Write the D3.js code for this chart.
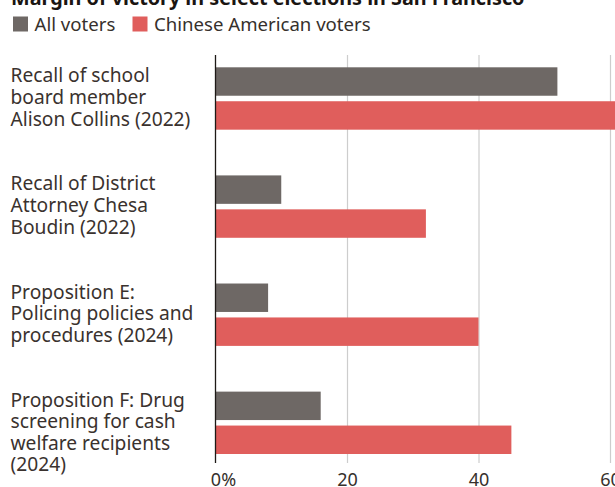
<!DOCTYPE html>
<html>
<head>
<meta charset="utf-8">
<script src="https://cdn.jsdelivr.net/npm/d3@7"></script>
<style>
  html, body { margin: 0; padding: 0; background: #fff; }
  svg { display: block; }
</style>
</head>
<body>
<svg id="chart" width="615" height="487"></svg>
<script>
// Margin of victory in select San Francisco elections
const categories = [
  ["Recall of school", "board member", "Alison Collins (2022)"],
  ["Recall of District", "Attorney Chesa", "Boudin (2022)"],
  ["Proposition E:", "Policing policies and", "procedures (2024)"],
  ["Proposition F: Drug", "screening for cash", "welfare recipients", "(2024)"]
];
const seriesNames = ["All voters", "Chinese American voters"];
const allVoters = [52, 10, 8, 16];
const chineseAmericanVoters = [62, 32, 40, 45];
const tickValues = [0, 20, 40, 60];
const titleText = "Margin of victory in select elections in San Francisco";

const colors = ["#6e6865", "#e05e5c"];
const FONT = "'Noto Sans', 'Open Sans', sans-serif";

const svg = d3.select("#chart");
const keys = categories.map((c, i) => "c" + i);
const rows = keys.map((k, i) => ({ key: k, lines: categories[i], values: [allVoters[i], chineseAmericanVoters[i]] }));

const x = d3.scaleLinear().domain([0, 60]).range([215.5, 610]);
const y = d3.scaleBand().domain(keys).range([67.3, 454]).paddingInner(0.423).paddingOuter(0);
const ySub = d3.scaleBand().domain([0, 1]).range([0, y.bandwidth()]).paddingInner(0.162);

const gridTop = 55, gridBottom = 463;

// Title (runs off the top edge)
svg.append("text")
  .attr("x", 11).attr("y", 4.5)
  .attr("font-family", FONT).attr("font-weight", 700).attr("font-size", 19.8)
  .attr("fill", "#1a1512")
  .text(titleText);

// Legend
const legend = svg.append("g");
const legendX = [13, 132.5];
seriesNames.forEach((name, i) => {
  legend.append("rect").attr("x", legendX[i]).attr("y", 16.5).attr("width", 15).attr("height", 15).attr("fill", colors[i]);
  legend.append("text").attr("x", legendX[i] + 21.5).attr("y", 31)
    .attr("font-family", FONT).attr("font-size", 18.6).attr("fill", "#36302c").text(name);
});

// Gridlines + axis labels
const axis = d3.axisBottom(x).tickValues(tickValues).tickSize(-(gridBottom - gridTop)).tickFormat(d => d);
const gAxis = svg.append("g").attr("transform", `translate(0,${gridBottom})`).call(axis);
gAxis.select(".domain").remove();
gAxis.selectAll(".tick line").attr("stroke", d => d === 0 ? "none" : "#cdcdcd").attr("stroke-width", 1.2);
gAxis.selectAll(".tick text")
  .attr("y", 22.5).attr("dy", 0)
  .attr("font-family", FONT).attr("font-size", 18).attr("fill", "#36302c");

// Bars
const groups = svg.append("g").selectAll("g").data(rows).join("g")
  .attr("transform", d => `translate(0,${y(d.key)})`);
groups.selectAll("rect").data(d => d.values).join("rect")
  .attr("x", x(0))
  .attr("y", (v, i) => ySub(i))
  .attr("width", v => x(v) - x(0))
  .attr("height", ySub.bandwidth())
  .attr("fill", (v, i) => colors[i]);

// "0%" : the zero is centred on its tick, the percent sign hangs to the right
gAxis.selectAll(".tick").filter(d => d === 0).select("text").each(function () {
  const t = d3.select(this);
  const w = this.getComputedTextLength();
  t.attr("text-anchor", "start").attr("x", -w / 2).text("0%");
});

// Zero baseline
svg.append("line")
  .attr("x1", x(0)).attr("x2", x(0)).attr("y1", gridTop).attr("y2", gridBottom)
  .attr("stroke", "#1e1a17").attr("stroke-width", 1.3);

// Category labels
const lineHeight = 21.6;
rows.forEach(r => {
  const t = svg.append("text")
    .attr("font-family", FONT).attr("font-size", 19.2).attr("fill", "#3a322e");
  r.lines.forEach((ln, j) => {
    t.append("tspan").attr("x", 10.5).attr("y", y(r.key) + 15 + j * lineHeight).text(ln);
  });
});
</script>
</body>
</html>
